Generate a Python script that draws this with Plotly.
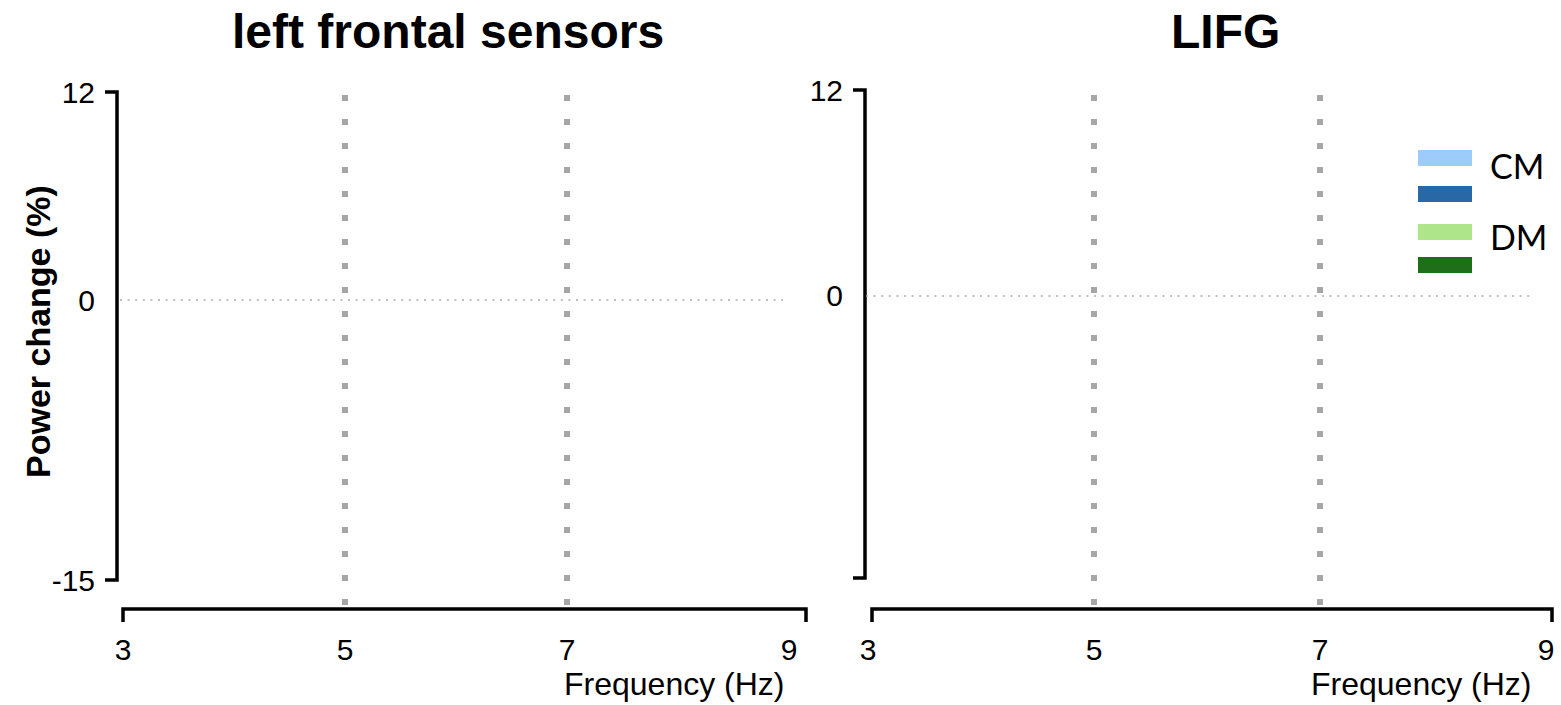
import plotly.graph_objects as go

# ---- chart values ----
panel_titles = ["left frontal sensors", "LIFG"]
freq_ticks = [3, 5, 7, 9]
freq_range = [3, 9]
band_edges = [5, 7]                      # dotted verticals bounding the theta band
power_ticks = [[12, 0, -15], [12, 0]]    # labelled power-change ticks per panel
power_top = 12
conditions = ["CM", "DM"]
condition_colors = [["#9ECCFA", "#2968A6"], ["#AEE58A", "#1F6E1A"]]

# ---- page geometry (pixels) ----
W, H = 1561, 705


def px(x):
    return x / W


def py(y):
    return 1 - y / H


panels = [
    dict(xd=(123, 789), yd=(92, 580), ylo=-16.15, yx=117, xy=609,
         xline=(123, 806), zero=(120, 783), title_x=448, xt_right=787),
    dict(xd=(868, 1546), yd=(90, 578), ylo=-16.43, yx=865, xy=609,
         xline=(872, 1552), zero=(866, 1530), title_x=1225, xt_right=1534),
]

FONT = "Liberation Sans, Arial, sans-serif"
AX_W = 3.5

fig = go.Figure()
shapes, annotations = [], []
layout = dict(
    width=W, height=H, autosize=False,
    margin=dict(l=0, r=0, t=0, b=0, autoexpand=False),
    paper_bgcolor="white", plot_bgcolor="white",
    showlegend=False,
    font=dict(family=FONT, color="black", size=30),
)

for i, p in enumerate(panels):
    sfx = "" if i == 0 else str(i + 1)
    xa, ya = "x" + sfx, "y" + sfx

    # empty trace keeps the subplot alive
    fig.add_trace(go.Scatter(x=[], y=[], xaxis=xa, yaxis=ya, mode="lines",
                             hoverinfo="skip"))

    ticks = power_ticks[i]
    tickvals = list(ticks)
    if len(ticks) == 3:
        tickvals[-1] = p["ylo"]   # bottom label sits at the axis end

    layout["xaxis" + sfx] = dict(
        domain=[px(p["xd"][0]), px(p["xd"][1])],
        range=freq_range, anchor="free", position=py(p["xy"]),
        tickvals=freq_ticks, ticktext=[str(t) for t in freq_ticks],
        ticks="outside", ticklen=14, tickcolor="rgba(0,0,0,0)",
        showline=False, showgrid=False, zeroline=False, automargin=False,
        tickfont=dict(size=30, family=FONT),
    )
    layout["yaxis" + sfx] = dict(
        domain=[py(p["yd"][1]), py(p["yd"][0])],
        range=[p["ylo"], power_top], anchor="free", position=px(p["yx"]),
        tickvals=tickvals, ticktext=[str(t) for t in ticks],
        ticks="outside", ticklen=16, tickcolor="rgba(0,0,0,0)",
        showline=False, showgrid=False, zeroline=False, automargin=False,
        tickfont=dict(size=30, family=FONT),
    )

    # bracket-style axes
    y0, y1 = p["yd"]
    x0, x1 = p["xline"]
    yx, xy = p["yx"], p["xy"]
    shapes.append(dict(
        type="path", xref="paper", yref="paper",
        path=f"M {px(yx - 12)} {py(y0)} L {px(yx)} {py(y0)} L {px(yx)} {py(y1)} L {px(yx - 12)} {py(y1)}",
        line=dict(color="black", width=AX_W),
    ))
    shapes.append(dict(
        type="path", xref="paper", yref="paper",
        path=f"M {px(x0)} {py(xy + 13)} L {px(x0)} {py(xy)} L {px(x1)} {py(xy)} L {px(x1)} {py(xy + 13)}",
        line=dict(color="black", width=AX_W),
    ))

    # dotted band boundaries
    for f in band_edges:
        shapes.append(dict(
            type="line", xref=xa, yref="paper",
            x0=f, x1=f, y0=py(605), y1=py(87),
            line=dict(color="#A6A6A6", width=6, dash="6px,18px"),
        ))

    # zero reference
    shapes.append(dict(
        type="line", xref="paper", yref=ya,
        x0=px(p["zero"][0]), x1=px(p["zero"][1]), y0=0, y1=0,
        line=dict(color="#AAAAAA", width=1.5, dash="2px,5.6px"),
    ))

    annotations.append(dict(
        text=f"<b>{panel_titles[i]}</b>", xref="paper", yref="paper",
        x=px(p["title_x"]), y=py(32), xanchor="center", yanchor="middle",
        showarrow=False, font=dict(size=48, family=FONT, color="black"),
    ))
    annotations.append(dict(
        text="Frequency (Hz)", xref="paper", yref="paper",
        x=px(p["xt_right"]), y=py(684), xanchor="right", yanchor="middle",
        showarrow=False, font=dict(size=32, family=FONT, color="black"),
    ))

annotations.append(dict(
    text="<b>Power change (%)</b>", xref="paper", yref="paper",
    x=px(38), y=py(332), xanchor="center", yanchor="middle", textangle=-90,
    showarrow=False, font=dict(size=34, family=FONT, color="black"),
))

# condition key
key_tops = [[150, 186], [224, 257]]
label_y = [165, 236]
for c, name in enumerate(conditions):
    for k, col in enumerate(condition_colors[c]):
        top = key_tops[c][k]
        shapes.append(dict(
            type="rect", xref="paper", yref="paper",
            x0=px(1418), x1=px(1472), y0=py(top + 16), y1=py(top),
            fillcolor=col, line=dict(width=0),
        ))
    annotations.append(dict(
        text=name, xref="paper", yref="paper",
        x=px(1488), y=py(label_y[c]), xanchor="left", yanchor="middle",
        showarrow=False, font=dict(size=34, family="Lato, Open Sans, sans-serif", color="black"),
    ))

layout["shapes"] = shapes
layout["annotations"] = annotations
fig.update_layout(**layout)

fig.write_html("out.html")
